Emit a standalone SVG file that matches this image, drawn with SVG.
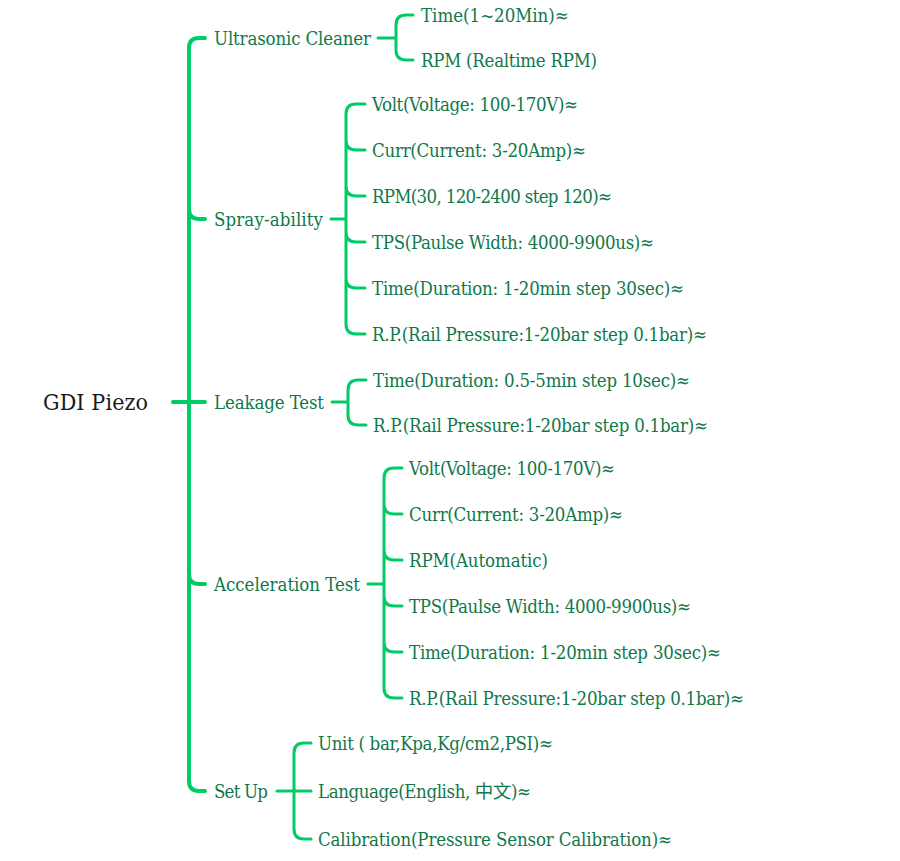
<svg xmlns="http://www.w3.org/2000/svg" width="900" height="861" viewBox="0 0 900 861">
<style>
.t{font-family:"DejaVu Serif Condensed","DejaVu Serif","Liberation Serif","Noto Sans CJK SC",serif;font-size:18.5px;fill:#10784a}
.root{font-family:"DejaVu Serif Condensed","DejaVu Serif","Liberation Serif",serif;font-size:23px;fill:#1a1a1a}
.c{fill:none;stroke:#00cc66;stroke-width:3;stroke-linecap:round;stroke-linejoin:round}
.m{stroke-width:4}
</style>
<rect width="900" height="861" fill="#ffffff"/>
<g id="connectors">
  <path class="c m" d="M173,402 H205 M205,38 H199 Q189,38 189,48 V781 Q189,791 199,791 H205 M189,209 Q189,219 199,219 H205 M189,574 Q189,584 199,584 H205"/>
  <path class="c" d="M378,38 H396 M413,15 H406 Q396,15 396,25 V50 Q396,60 406,60 H413"/>
  <path class="c" d="M331,219 H346 M365,104 H356 Q346,104 346,114 V324 Q346,334 356,334 H365 M346,140 Q346,150 356,150 H365 M346,186 Q346,196 356,196 H365 M346,232 Q346,242 356,242 H365 M346,278 Q346,288 356,288 H365"/>
  <path class="c" d="M332,402 H348 M366,380 H358 Q348,380 348,390 V415 Q348,425 358,425 H366"/>
  <path class="c" d="M368,584 H384 M402,468 H394 Q384,468 384,478 V688 Q384,698 394,698 H402 M384,504 Q384,514 394,514 H402 M384,550 Q384,560 394,560 H402 M384,596 Q384,606 394,606 H402 M384,642 Q384,652 394,652 H402"/>
  <path class="c" d="M277,791 H311 M311,743 H304 Q294,743 294,753 V829 Q294,839 304,839 H311"/>
</g>
<g id="root"><text class="root" x="43" y="410" textLength="105">GDI Piezo</text></g>
<g id="n-ultrasonic"><text class="t" x="214" y="45" textLength="157">Ultrasonic Cleaner</text></g>
<g id="n-uc-time"><text class="t" x="421" y="22">Time(1~20Min)≈</text></g>
<g id="n-uc-rpm"><text class="t" x="421" y="67" textLength="176">RPM (Realtime RPM)</text></g>
<g id="n-spray"><text class="t" x="214" y="226" textLength="109">Spray-ability</text></g>
<g id="n-sp-volt"><text class="t" x="372" y="111" textLength="206">Volt(Voltage: 100-170V)≈</text></g>
<g id="n-sp-curr"><text class="t" x="372" y="157" textLength="214">Curr(Current: 3-20Amp)≈</text></g>
<g id="n-sp-rpm"><text class="t" x="372" y="203" textLength="240">RPM(30, 120-2400 step 120)≈</text></g>
<g id="n-sp-tps"><text class="t" x="372" y="249" textLength="282">TPS(Paulse Width: 4000-9900us)≈</text></g>
<g id="n-sp-time"><text class="t" x="372" y="295" textLength="312">Time(Duration: 1-20min step 30sec)≈</text></g>
<g id="n-sp-rp"><text class="t" x="372" y="341" textLength="335">R.P.(Rail Pressure:1-20bar step 0.1bar)≈</text></g>
<g id="n-leak"><text class="t" x="214" y="409" textLength="110">Leakage Test</text></g>
<g id="n-lk-time"><text class="t" x="373" y="387" textLength="317">Time(Duration: 0.5-5min step 10sec)≈</text></g>
<g id="n-lk-rp"><text class="t" x="373" y="432" textLength="335">R.P.(Rail Pressure:1-20bar step 0.1bar)≈</text></g>
<g id="n-accel"><text class="t" x="214" y="591" textLength="146">Acceleration Test</text></g>
<g id="n-ac-volt"><text class="t" x="409" y="475" textLength="206">Volt(Voltage: 100-170V)≈</text></g>
<g id="n-ac-curr"><text class="t" x="409" y="521" textLength="214">Curr(Current: 3-20Amp)≈</text></g>
<g id="n-ac-rpm"><text class="t" x="409" y="567" textLength="139">RPM(Automatic)</text></g>
<g id="n-ac-tps"><text class="t" x="409" y="613" textLength="282">TPS(Paulse Width: 4000-9900us)≈</text></g>
<g id="n-ac-time"><text class="t" x="409" y="659" textLength="312">Time(Duration: 1-20min step 30sec)≈</text></g>
<g id="n-ac-rp"><text class="t" x="409" y="705" textLength="335">R.P.(Rail Pressure:1-20bar step 0.1bar)≈</text></g>
<g id="n-setup"><text class="t" x="214" y="798" textLength="54">Set Up</text></g>
<g id="n-su-unit"><text class="t" x="318" y="750" textLength="235">Unit ( bar,Kpa,Kg/cm2,PSI)≈</text></g>
<g id="n-su-lang"><text class="t" x="318" y="798" textLength="213">Language(English, 中文)≈</text></g>
<g id="n-su-cal"><text class="t" x="318" y="846" textLength="354">Calibration(Pressure Sensor Calibration)≈</text></g>
</svg>
